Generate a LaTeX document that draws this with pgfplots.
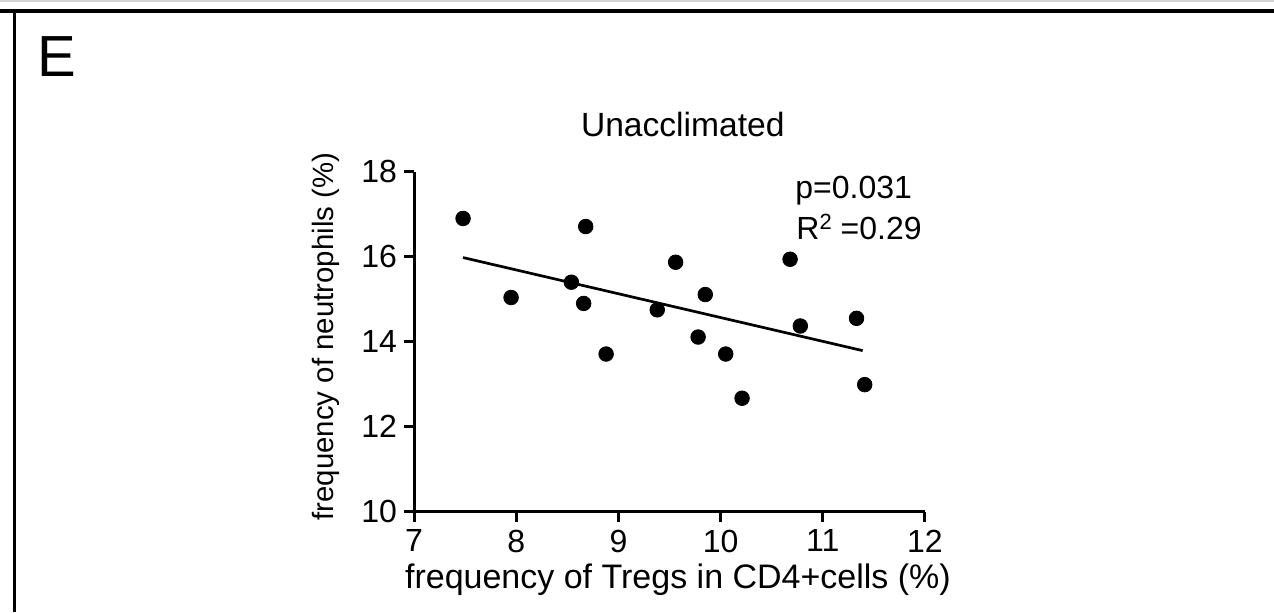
\documentclass[border=0pt]{standalone}
\usepackage{fontspec}
\setmainfont{Liberation Sans}
\usepackage{pgfplots}
\pgfplotsset{compat=1.18}

\begin{document}
\begin{tikzpicture}
% panel frame (top and left edges)
\draw[gray!35, line width=0.75pt] (0pt,305.6pt) -- (637pt,305.6pt);
\draw[black, line width=2.2pt] (0pt,300.5pt) -- (637pt,300.5pt);
\draw[black, line width=1.7pt] (7.25pt,301.5pt) -- (7.25pt,0pt);
\node[anchor=base west, inner sep=0pt, font=\fontsize{29}{30}\selectfont] at (18.5pt,267.5pt) {E};

\begin{axis}[
  at={(207pt,50.15pt)}, anchor=south west,
  scale only axis, width=255.5pt, height=170pt,
  xmin=7, xmax=12, ymin=10, ymax=18,
  xtick={7,8,9,10,11,12}, ytick={10,12,14,16,18},
  axis x line*=bottom, axis y line*=left,
  axis line style={-, line width=1.5pt},
  tick style={line width=1.5pt, black},
  tick align=outside, major tick length=5pt,
  /pgf/number format/assume math mode=true,
  tick label style={font=\fontsize{16}{16}\selectfont},
  xticklabel style={yshift=-0.5pt},
  title={Unacclimated},
  title style={font=\fontsize{16.8}{16.8}\selectfont, at={(axis description cs:0.526,1.0)}, anchor=base, yshift=11.5pt},
  xlabel={frequency of Tregs in CD4+cells (\%)},
  xlabel style={font=\fontsize{17}{17}\selectfont, at={(axis description cs:0.5166,-0.226)}, anchor=base},
  ylabel={frequency of neutrophils (\%)},
  ylabel style={font=\fontsize{14.7}{14.7}\selectfont, at={(axis description cs:-0.172,0.515)}, anchor=center, rotate=0},
]
\addplot[only marks, mark=*, mark size=3.65pt, black] coordinates {
(7.48,16.90) (8.68,16.71) (7.95,15.04) (8.54,15.40) (8.66,14.90) (8.88,13.71)
(9.56,15.87) (9.85,15.11) (9.38,14.75) (9.78,14.11) (10.05,13.71) (10.21,12.67)
(10.68,15.94) (10.78,14.37) (11.33,14.55) (11.41,12.99)
};
\addplot[black, line width=1.35pt] coordinates {(7.48,15.98) (11.39,13.79)};
\end{axis}

\node[anchor=base west, inner sep=0pt, font=\fontsize{16}{16}\selectfont] at (397.5pt,206.85pt) {p=0.031};
\node[anchor=base west, inner sep=0pt, font=\fontsize{16}{16}\selectfont] at (398pt,186.35pt) {R{\fontsize{11}{11}\selectfont\raisebox{5pt}{2}} =0.29};

\pgfresetboundingbox
\useasboundingbox (0pt,0pt) rectangle (637pt,306pt);
\end{tikzpicture}
\end{document}
